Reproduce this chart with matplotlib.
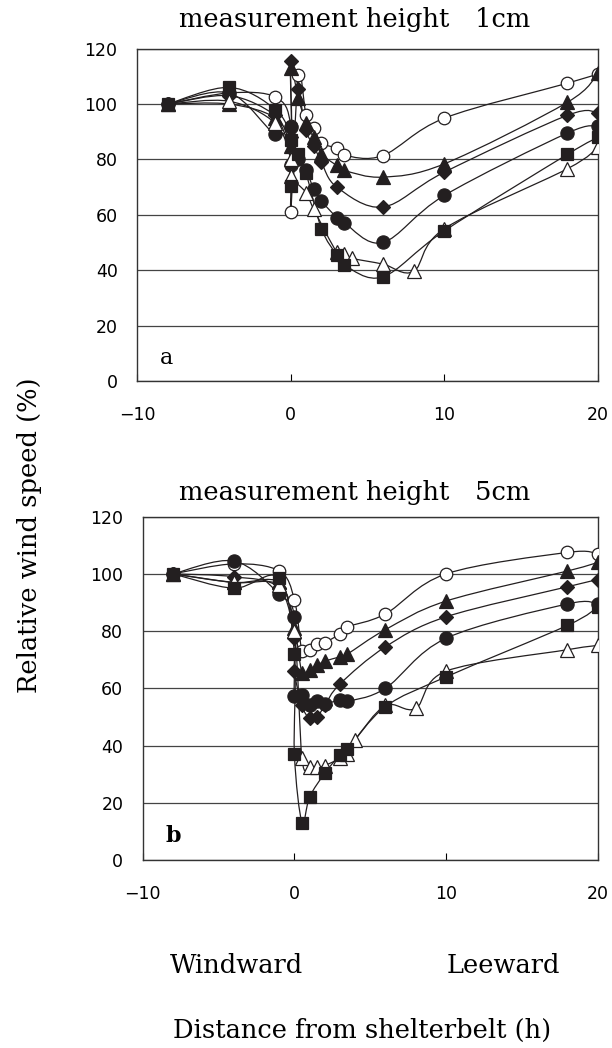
import matplotlib.pyplot as plt
from matplotlib.path import Path
from matplotlib.patches import PathPatch
import numpy as np

# ---- measurement height 1cm (panel a) ----
x_oc_a = [-8, -4, -1, 0, 0, 0.5, 1, 1.5, 2, 3, 3.5, 6, 10, 18, 20]
y_oc_a = [100, 104, 102.5, 92, 61, 110.5, 96, 91.5, 86, 84, 81.5, 81.4, 94.9, 107.5, 110.9]
x_tri_a = [-8, -4, -1, 0, 0, 0.5, 1, 1.5, 2, 3, 3.5, 6, 10, 18, 20]
y_tri_a = [100, 100, 95, 85, 113, 102, 93, 88, 82, 77.8, 76, 73.6, 78.4, 100.6, 111.2]
x_dia_a = [-8, -4, -1, 0, 0, 0.5, 1, 1.5, 2, 3, 6, 10, 18, 20]
y_dia_a = [100, 103, 96, 88, 115.5, 105.5, 90.5, 85, 79, 70, 62.8, 75.4, 95.9, 96.7]
x_dot_a = [-8, -4, -1, 0, 0, 0.5, 1, 1.5, 2, 3, 3.5, 6, 10, 18, 20]
y_dot_a = [100, 104, 89, 91.6, 78, 80, 76, 69.4, 65, 59, 57, 50, 67, 89.5, 92]
x_sq_a = [-8, -4, -1, 0, 0, 0.5, 1, 2, 3, 3.5, 6, 10, 18, 20]
y_sq_a = [100, 106, 98, 87, 70.5, 82, 75, 55, 45.4, 41.8, 37.6, 54.2, 81.8, 88]
x_otri_a = [-8, -4, -1, 0, 0, 1, 1.5, 3, 3.5, 4, 6, 8, 10, 18, 20]
y_otri_a = [100, 101, 93, 80, 74, 68, 62, 46.5, 46, 44.3, 42.2, 39.6, 55, 76.6, 84.4]

# ---- measurement height 5cm (panel b) ----
x_oc_b = [-8, -4, -1, 0, 0.5, 1, 1.5, 2, 3, 3.5, 6, 10, 18, 20]
y_oc_b = [100, 103.5, 101, 91, 73, 73.5, 75.5, 76, 79, 81.5, 86, 100, 107.5, 107]
x_tri_b = [-8, -4, -1, 0, 0.5, 1, 1.5, 2, 3, 3.5, 6, 10, 18, 20]
y_tri_b = [100, 97, 97, 81, 65.5, 66.5, 68, 69.5, 71, 72, 80.5, 90.5, 101, 104]
x_dia_b = [-8, -4, -1, 0, 0, 0.5, 1, 1.5, 2, 3, 6, 10, 18, 20]
y_dia_b = [100, 99, 95, 77.5, 66, 54, 49.5, 50, 54, 61.5, 74.5, 85, 95.5, 98]
x_dot_b = [-8, -4, -1, 0, 0, 0.5, 1, 1.5, 2, 3, 3.5, 6, 10, 18, 20]
y_dot_b = [100, 104.5, 93, 85, 57.3, 57.5, 54, 55.5, 54.5, 56, 55.5, 60, 77.5, 89.5, 89.5]
x_sq_b = [-8, -4, -1, 0, 0, 0.5, 1, 2, 3, 3.5, 6, 10, 18, 20]
y_sq_b = [100, 95, 98.5, 72, 37, 13, 22, 30.3, 36.7, 38.7, 53.6, 64, 82, 88.5]
x_otri_b = [-8, -4, -1, 0, 0.5, 1, 1.5, 2, 3, 3.5, 4, 6, 8, 10, 18, 20]
y_otri_b = [100, 97, 96, 80, 35.5, 32.5, 32.5, 33, 35.5, 37, 42, 54, 53, 66, 73.5, 75]

xticks = [-10, 0, 10, 20]
yticks = [0, 20, 40, 60, 80, 100, 120]

black = '#231f20'
serif = ['DejaVu Serif', 'Noto Sans CJK JP']

styles = {
    'oc': dict(marker='o', ms=9, mfc='white', mec=black, mew=0.9),
    'tri': dict(marker='^', ms=9.5, mfc=black, mec=black, mew=0.9),
    'dia': dict(marker='D', ms=7.2, mfc=black, mec=black, mew=0.9),
    'dot': dict(marker='o', ms=9.5, mfc=black, mec=black, mew=0.9),
    'sq': dict(marker='s', ms=9, mfc=black, mec=black, mew=0.9),
    'otri': dict(marker='^', ms=9.5, mfc='white', mec=black, mew=0.9),
}


# smoothed line like the spreadsheet "smoothed line" option (Catmull-Rom as bezier)
def smooth_path(xs, ys):
    pts = np.column_stack([xs, ys]).astype(float)
    n = len(pts)
    verts = [pts[0]]
    codes = [Path.MOVETO]
    for i in range(n - 1):
        p0 = pts[i - 1] if i > 0 else pts[i]
        p1 = pts[i]
        p2 = pts[i + 1]
        p3 = pts[i + 2] if i + 2 < n else pts[i + 1]
        verts += [p1 + (p2 - p0) / 6, p2 - (p3 - p1) / 6, p2]
        codes += [Path.CURVE4] * 3
    return Path(verts, codes)


def draw_panel(ax, series, letter, bold):
    for key, xs, ys in series:
        ax.add_patch(PathPatch(smooth_path(xs, ys), fill=False, edgecolor=black,
                               lw=0.9, zorder=2))
    for key, xs, ys in series:
        ax.plot(xs, ys, ls='none', zorder=3, **styles[key])
    ax.set_xlim(-10, 20)
    ax.set_ylim(0, 120)
    ax.set_xticks(xticks)
    ax.set_yticks(yticks)
    ax.set_xticklabels(['\u221210', '0', '10', '20'])
    ax.yaxis.grid(True, color='#444444', lw=0.9)
    ax.set_axisbelow(True)
    ax.tick_params(axis='x', direction='in', length=5, labelsize=12.5, pad=18)
    ax.tick_params(axis='y', length=0, labelsize=12.5, pad=14)
    for s in ax.spines.values():
        s.set_linewidth(1.0)
        s.set_color('#333333')
    ax.text(0.05, 0.07, letter, transform=ax.transAxes, fontsize=16,
            family=serif, fontweight='bold' if bold else 'normal', va='center')


fig = plt.figure(figsize=(6.12, 10.48), dpi=100)
ax1 = fig.add_axes([0.2239, 0.6365, 0.7533, 0.3171])
ax2 = fig.add_axes([0.2332, 0.1794, 0.7435, 0.3276])

draw_panel(ax1, [('oc', x_oc_a, y_oc_a), ('tri', x_tri_a, y_tri_a),
                 ('dia', x_dia_a, y_dia_a), ('dot', x_dot_a, y_dot_a),
                 ('otri', x_otri_a, y_otri_a), ('sq', x_sq_a, y_sq_a)], 'a', False)
draw_panel(ax2, [('oc', x_oc_b, y_oc_b), ('tri', x_tri_b, y_tri_b),
                 ('dia', x_dia_b, y_dia_b), ('dot', x_dot_b, y_dot_b),
                 ('otri', x_otri_b, y_otri_b), ('sq', x_sq_b, y_sq_b)], 'b', True)

fs = 18.5
fig.text(0.58, 0.981, 'measurement height\u30001cm', ha='center', va='center',
         fontsize=fs, family=serif)
fig.text(0.58, 0.5305, 'measurement height\u30005cm', ha='center', va='center',
         fontsize=fs, family=serif)
fig.text(0.049, 0.4895, 'Relative wind speed (%)', rotation=90, ha='center',
         va='center', fontsize=fs, family=serif)
fig.text(0.387, 0.079, 'Windward', ha='center', va='center', fontsize=fs, family=serif)
fig.text(0.822, 0.079, 'Leeward', ha='center', va='center', fontsize=fs, family=serif)
fig.text(0.592, 0.017, 'Distance from shelterbelt (h)', ha='center', va='center',
         fontsize=fs, family=serif)

fig.savefig('out.png', dpi=100)
